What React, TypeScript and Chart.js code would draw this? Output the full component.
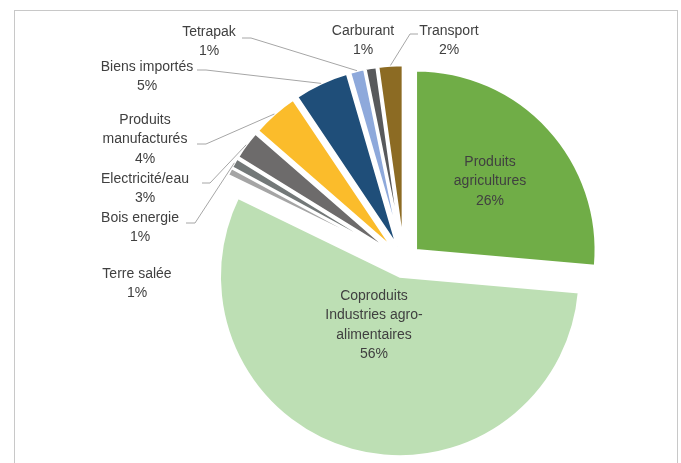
import React, { useEffect, useRef } from "react";
import { Chart, registerables } from "chart.js";

Chart.register(...registerables);

// ---- data ----
const categories: string[][] = [
  ["Produits", "agricultures"],
  ["Coproduits", "Industries agro-", "alimentaires"],
  ["Terre salée"],
  ["Bois energie"],
  ["Electricité/eau"],
  ["Produits", "manufacturés"],
  ["Biens importés"],
  ["Tetrapak"],
  ["Carburant"],
  ["Transport"],
];
const values = [26.4, 55.8, 0.7, 0.9, 2.6, 4.2, 4.9, 1.3, 1.0, 2.2];
const colors = [
  "#70AD47",
  "#BDDFB4",
  "#A5A5A5",
  "#737878",
  "#6D6B6B",
  "#FBBC2B",
  "#1F4E79",
  "#8EA9DB",
  "#58595B",
  "#8C6B23",
];

// ---- layout (label placement, not data) ----
type Box = { x: number; y: number; leader?: [number, number, number] };
const labelBoxes: Box[] = [
  { x: 490, y: 162 },
  { x: 374, y: 296 },
  { x: 137, y: 274 },
  { x: 140, y: 218, leader: [186, 223, 195] },
  { x: 145, y: 179, leader: [202, 183, 210] },
  { x: 145, y: 120, leader: [197, 144, 206] },
  { x: 147, y: 67, leader: [197, 70, 206] },
  { x: 209, y: 32, leader: [242, 38, 251] },
  { x: 363, y: 31 },
  { x: 449, y: 31, leader: [418, 34, 410] },
];

const EXPLODE = 16;
const RADIUS = 180;
const LINE_H = 19.5;
const FONT = '14px "Liberation Sans", Arial, sans-serif';
const TEXT_COLOR = "#404040";

const explodePlugin = {
  id: "explode",
  beforeDatasetDraw(chart: any, args: any) {
    const ctx = chart.ctx;
    args.meta.data.forEach((arc: any) => {
      const mid = (arc.startAngle + arc.endAngle) / 2;
      ctx.save();
      ctx.translate(Math.cos(mid) * EXPLODE, Math.sin(mid) * EXPLODE);
      arc.draw(ctx);
      ctx.restore();
    });
    return false;
  },
};

const labelPlugin = {
  id: "pieLabels",
  afterDraw(chart: any) {
    const ctx = chart.ctx;
    const meta = chart.getDatasetMeta(0);
    const total = values.reduce((a, b) => a + b, 0);
    ctx.save();
    meta.data.forEach((arc: any, i: number) => {
      const box = labelBoxes[i];
      if (box.leader) {
        const mid = (arc.startAngle + arc.endAngle) / 2;
        const ex = arc.x + Math.cos(mid) * (EXPLODE + arc.outerRadius);
        const ey = arc.y + Math.sin(mid) * (EXPLODE + arc.outerRadius);
        const [x0, y0, x1] = box.leader;
        ctx.beginPath();
        ctx.moveTo(x0, y0);
        ctx.lineTo(x1, y0);
        ctx.lineTo(ex, ey);
        ctx.strokeStyle = "#A6A6A6";
        ctx.lineWidth = 1;
        ctx.stroke();
      }
      const lines = [...categories[i], Math.round((values[i] / total) * 100) + "%"];
      ctx.font = FONT;
      ctx.fillStyle = TEXT_COLOR;
      ctx.textAlign = "center";
      ctx.textBaseline = "middle";
      lines.forEach((t, k) => ctx.fillText(t, box.x, box.y + k * LINE_H));
    });
    ctx.restore();
  },
};

export default function App() {
  const ref = useRef<HTMLCanvasElement | null>(null);
  useEffect(() => {
    if (!ref.current) return;
    const chart = new Chart(ref.current, {
      type: "pie",
      data: {
        labels: categories.map((c) => c.join(" ")),
        datasets: [
          {
            data: values,
            backgroundColor: colors,
            borderColor: "#FFFFFF",
            borderWidth: 2.5,
          },
        ],
      },
      options: {
        animation: false,
        responsive: false,
        radius: RADIUS,
        layout: { padding: { left: 127, top: 59, right: 0, bottom: 0 } },
        plugins: {
          legend: { display: false },
          tooltip: { enabled: false },
        },
      } as any,
      plugins: [explodePlugin, labelPlugin],
    });
    return () => chart.destroy();
  }, []);

  return (
    <div
      style={{
        position: "absolute",
        left: 0,
        top: 0,
        width: 681,
        height: 463,
        overflow: "hidden",
        background: "#FFFFFF",
      }}
    >
      <div
        style={{
          position: "absolute",
          left: 14,
          top: 10,
          width: 664,
          height: 480,
          border: "1px solid #C8C8C8",
          boxSizing: "border-box",
        }}
      />
      <canvas
        ref={ref}
        width={681}
        height={463}
        style={{ position: "absolute", left: 0, top: 0, width: 681, height: 463 }}
      />
    </div>
  );
}
